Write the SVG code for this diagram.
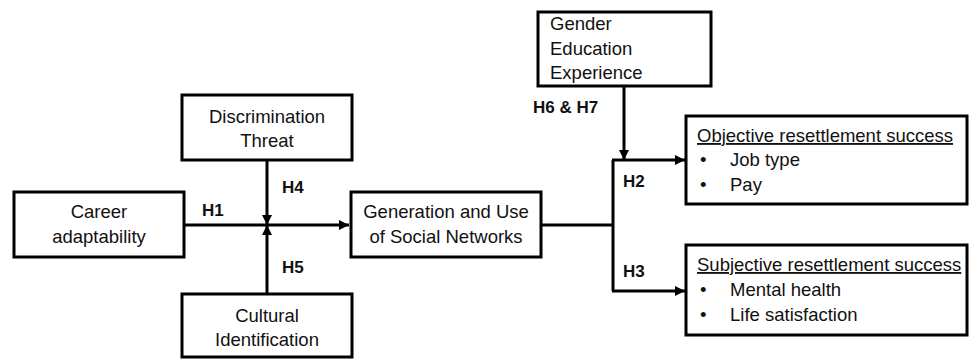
<svg xmlns="http://www.w3.org/2000/svg" width="970" height="360" viewBox="0 0 970 360">
<defs>
<marker id="ah" viewBox="0 0 10 10" refX="10" refY="5" markerWidth="10" markerHeight="10" markerUnits="userSpaceOnUse" orient="auto">
<path d="M0,0 L10,5 L0,10 z" fill="#000"/>
</marker>
<style>
.box{fill:#fff;stroke:#000;stroke-width:3}
.ln{fill:none;stroke:#000;stroke-width:3}
.t{font-family:"Liberation Sans","Open Sans",sans-serif;font-size:18.5px;fill:#111}
.c{text-anchor:middle}
.h{font-family:"Liberation Sans","Open Sans",sans-serif;font-size:17px;font-weight:bold;fill:#111}
</style>
</defs>
<rect width="970" height="360" fill="#fff"/>
<g id="connectors">
<path class="ln" d="M184,225 H349" marker-end="url(#ah)"/>
<path class="ln" d="M267,160 V225" marker-end="url(#ah)"/>
<path class="ln" d="M267,294 V225" marker-end="url(#ah)"/>
<path class="ln" d="M541,225 H613"/>
<path class="ln" d="M613,160 V291"/>
<path class="ln" d="M612,160 H685" marker-end="url(#ah)"/>
<path class="ln" d="M612,291 H685" marker-end="url(#ah)"/>
<path class="ln" d="M624,86 V160" marker-end="url(#ah)"/>
<text class="h" x="202" y="216">H1</text>
<text class="h" x="282" y="193">H4</text>
<text class="h" x="282" y="273">H5</text>
<text class="h" x="533" y="113">H6 &amp; H7</text>
<text class="h" x="623" y="187">H2</text>
<text class="h" x="623" y="277">H3</text>
</g>
<g id="career">
<rect class="box" x="14" y="192" width="170" height="65"/>
<text class="t c" x="99" y="218">Career</text>
<text class="t c" x="99" y="243">adaptability</text>
</g>
<g id="discrimination">
<rect class="box" x="182" y="95" width="170" height="65"/>
<text class="t c" x="267" y="123">Discrimination</text>
<text class="t c" x="267" y="147">Threat</text>
</g>
<g id="cultural">
<rect class="box" x="182" y="294" width="170" height="63"/>
<text class="t c" x="267" y="322">Cultural</text>
<text class="t c" x="267" y="346">Identification</text>
</g>
<g id="networks">
<rect class="box" x="351" y="192" width="190" height="65"/>
<text class="t c" x="446" y="218">Generation and Use</text>
<text class="t c" x="446" y="243">of Social Networks</text>
</g>
<g id="controls">
<rect class="box" x="538" y="12" width="173" height="74"/>
<text class="t" x="550" y="30">Gender</text>
<text class="t" x="550" y="55">Education</text>
<text class="t" x="550" y="79">Experience</text>
</g>
<g id="objective">
<rect class="box" x="686" y="116" width="281" height="88"/>
<text class="t" x="697" y="142" text-decoration="underline">Objective resettlement success</text>
<text class="t" x="700" y="166">•</text>
<text class="t" x="730" y="166">Job type</text>
<text class="t" x="700" y="191">•</text>
<text class="t" x="730" y="191">Pay</text>
</g>
<g id="subjective">
<rect class="box" x="686" y="245" width="281" height="90"/>
<text class="t" x="697" y="271" text-decoration="underline">Subjective resettlement success</text>
<text class="t" x="700" y="296">•</text>
<text class="t" x="730" y="296">Mental health</text>
<text class="t" x="700" y="321">•</text>
<text class="t" x="730" y="321">Life satisfaction</text>
</g>
</svg>
